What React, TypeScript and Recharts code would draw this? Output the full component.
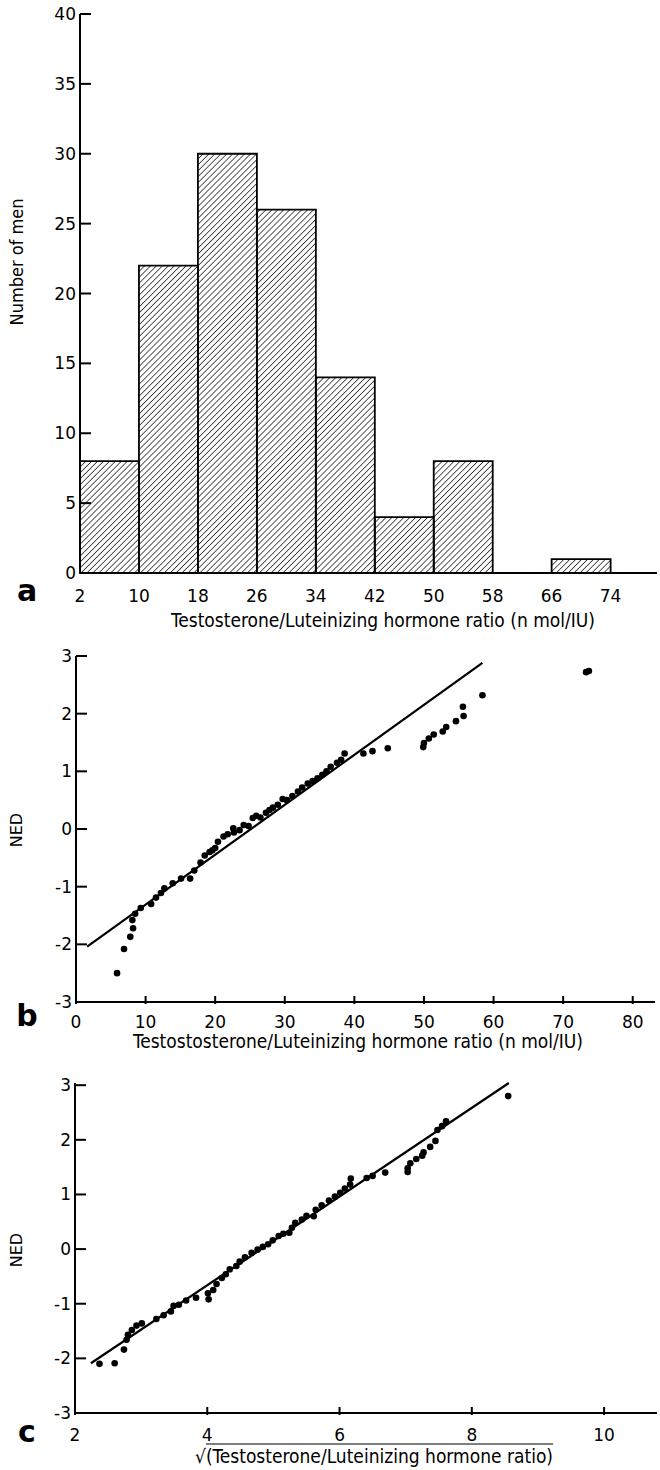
import React from 'react';
import { BarChart, Bar, XAxis, YAxis, ScatterChart, Scatter } from 'recharts';

// a: histogram, bins of width 8 starting at 2
const binMid = [6, 14, 22, 30, 38, 46, 54, 62, 70];
const binCount = [8, 22, 30, 26, 14, 4, 8, 0, 1];
const binEdgeTicks = [2, 10, 18, 26, 34, 42, 50, 58, 66, 74];
const countTicks = [0, 5, 10, 15, 20, 25, 30, 35, 40];

// b: NED against the ratio
const ratioPoints: [number, number][] = [
  [5.9, -2.5], [6.9, -2.08], [7.8, -1.87], [8.2, -1.72], [8.1, -1.58], [8.5, -1.47], [9.3, -1.37],
  [10.8, -1.3], [11.5, -1.19], [12.2, -1.11], [12.7, -1.03], [13.9, -0.94], [15.1, -0.86], [16.4, -0.86],
  [17.0, -0.72], [17.9, -0.58], [18.5, -0.46], [19.2, -0.4], [19.6, -0.37], [20.0, -0.33], [20.4, -0.22],
  [21.2, -0.13], [21.8, -0.09], [22.6, 0.01], [22.7, -0.06], [23.5, -0.02], [24.1, 0.07], [24.8, 0.05],
  [25.4, 0.19], [25.9, 0.23], [26.5, 0.2], [27.3, 0.28], [27.8, 0.33], [28.3, 0.37], [29.0, 0.42],
  [29.7, 0.52], [30.3, 0.5], [31.1, 0.57], [31.9, 0.65], [32.5, 0.72], [33.3, 0.79], [34.0, 0.83],
  [34.7, 0.88], [35.4, 0.94], [36.0, 1.0], [36.6, 1.08], [37.5, 1.15], [38.1, 1.2], [38.6, 1.31],
  [41.3, 1.31], [42.6, 1.35], [44.8, 1.4], [49.9, 1.42], [50.0, 1.49], [50.7, 1.57], [51.4, 1.64],
  [52.7, 1.69], [53.2, 1.77], [54.6, 1.87], [55.7, 1.96], [55.6, 2.12], [58.4, 2.32], [73.3, 2.72], [73.7, 2.74],
];
const ratioFit: [number, number][] = [[1.6, -2.04], [58.4, 2.88]];
const ratioTicks = [0, 10, 20, 30, 40, 50, 60, 70, 80];

// c: NED against the square root of the ratio
const rootPoints: [number, number][] = [
  [2.37, -2.1], [2.6, -2.09], [2.74, -1.84], [2.78, -1.66], [2.8, -1.57], [2.86, -1.48], [2.93, -1.4],
  [3.01, -1.36], [3.23, -1.28], [3.34, -1.21], [3.45, -1.14], [3.49, -1.04], [3.57, -1.02], [3.68, -0.94],
  [3.83, -0.89], [4.02, -0.92], [4.01, -0.81], [4.09, -0.75], [4.14, -0.64], [4.22, -0.53], [4.28, -0.46],
  [4.34, -0.37], [4.44, -0.31], [4.49, -0.23], [4.57, -0.15], [4.67, -0.07], [4.76, -0.01], [4.84, 0.04],
  [4.92, 0.09], [4.99, 0.16], [5.08, 0.24], [5.15, 0.28], [5.24, 0.3], [5.28, 0.39], [5.33, 0.48],
  [5.43, 0.54], [5.5, 0.61], [5.61, 0.6], [5.64, 0.72], [5.73, 0.8], [5.84, 0.89], [5.93, 0.96],
  [6.01, 1.03], [6.08, 1.11], [6.16, 1.18], [6.17, 1.29], [6.41, 1.3], [6.5, 1.34], [6.69, 1.4],
  [7.03, 1.41], [7.03, 1.48], [7.07, 1.57], [7.16, 1.65], [7.25, 1.71], [7.27, 1.77], [7.37, 1.87],
  [7.45, 1.98], [7.48, 2.18], [7.55, 2.25], [7.61, 2.34], [8.55, 2.8],
];
const rootFit: [number, number][] = [[2.24, -2.09], [8.56, 3.04]];
const rootTicks = [2, 4, 6, 8, 10];
const nedTicks = [-3, -2, -1, 0, 1, 2, 3];

const NUM_FONT = "'DejaVu Sans', sans-serif";
const TITLE_FONT = "'Liberation Sans Narrow', 'DejaVu Sans Condensed', 'Liberation Sans', sans-serif";

const histData = binMid.map((mid, i) => ({ mid, count: binCount[i] }));
const toXY = (pts: [number, number][]) => pts.map(([x, y]) => ({ x, y }));

// y ticks point inwards, label sits just left of the axis
const LeftTick = (props: any) => {
  const { x, y, payload } = props;
  return (
    <g>
      <line x1={x + 4} y1={y} x2={x + 15} y2={y} stroke="#000" strokeWidth={2} />
      <text x={x} y={y} textAnchor="end" dominantBaseline="central" fontSize={17} fontFamily={NUM_FONT} fill="#000">
        {payload.value}
      </text>
    </g>
  );
};

const makeBottomTick = (mark: boolean, drop: number) => (props: any) => {
  const { x, y, payload } = props;
  return (
    <g>
      {mark && <line x1={x} y1={y} x2={x} y2={y - 8} stroke="#000" strokeWidth={2} />}
      <text x={x} y={y + drop} textAnchor="middle" dominantBaseline="central" fontSize={17} fontFamily={NUM_FONT} fill="#000">
        {payload.value}
      </text>
    </g>
  );
};

const Dot = (props: any) => <circle cx={props.cx} cy={props.cy} r={3.3} fill="#000" />;
const NoDot = () => <g />;

const axisLine = { stroke: '#000', strokeWidth: 2 };

const Text = ({ x, y, rotate, size = 19, bold, font = TITLE_FONT, children }: any) => (
  <div
    style={{
      position: 'absolute',
      left: x,
      top: y,
      transform: `translate(-50%, -50%)${rotate ? ' rotate(-90deg)' : ''}`,
      whiteSpace: 'nowrap',
      fontFamily: font,
      fontSize: size,
      fontWeight: bold ? 700 : 400,
      lineHeight: 1,
      color: '#000',
    }}
  >
    {children}
  </div>
);

export default function App() {
  return (
    <div style={{ position: 'absolute', left: 0, top: 0, width: 660, height: 1470, background: '#fff' }}>
      <div style={{ position: 'absolute', left: 0, top: 0 }}>
        <BarChart width={660} height={640} data={histData} margin={{ top: 14, right: 3, left: 40, bottom: 37 }} barCategoryGap={0}>
          <defs>
            <pattern id="hatch" width="4.2" height="4.2" patternUnits="userSpaceOnUse" patternTransform="rotate(45)">
              <line x1="0" y1="0" x2="0" y2="4.2" stroke="#000" strokeWidth="1.3" />
            </pattern>
          </defs>
          <XAxis
            type="number"
            dataKey="mid"
            domain={[2, 80.3]}
            ticks={binEdgeTicks}
            interval={0}
            height={30}
            tickSize={0}
            tickLine={false}
            axisLine={axisLine}
            tick={makeBottomTick(false, 21)}
          />
          <YAxis
            type="number"
            domain={[0, 40]}
            ticks={countTicks}
            interval={0}
            width={40}
            tickSize={0}
            tickMargin={4}
            tickLine={false}
            axisLine={axisLine}
            tick={LeftTick}
          />
          <Bar dataKey="count" fill="url(#hatch)" stroke="#000" strokeWidth={1.8} isAnimationActive={false} />
        </BarChart>
      </div>

      <div style={{ position: 'absolute', left: 0, top: 640 }}>
        <ScatterChart width={660} height={425} margin={{ top: 16, right: 5, left: 36, bottom: 33 }}>
          <XAxis
            type="number"
            dataKey="x"
            domain={[0, 83.2]}
            ticks={ratioTicks}
            interval={0}
            height={30}
            tickSize={0}
            tickLine={false}
            axisLine={axisLine}
            tick={makeBottomTick(true, 18)}
          />
          <YAxis
            type="number"
            dataKey="y"
            domain={[-3, 3]}
            ticks={nedTicks}
            interval={0}
            width={40}
            tickSize={0}
            tickMargin={4}
            tickLine={false}
            axisLine={axisLine}
            tick={LeftTick}
          />
          <Scatter data={toXY(ratioFit)} line={{ stroke: '#000', strokeWidth: 2.2 }} shape={NoDot} isAnimationActive={false} />
          <Scatter data={toXY(ratioPoints)} shape={Dot} isAnimationActive={false} />
        </ScatterChart>
      </div>

      <div style={{ position: 'absolute', left: 0, top: 1065 }}>
        <ScatterChart width={660} height={405} margin={{ top: 18, right: 3, left: 35, bottom: 27 }}>
          <XAxis
            type="number"
            dataKey="x"
            domain={[2, 10.8]}
            ticks={rootTicks}
            interval={0}
            height={30}
            tickSize={0}
            tickLine={false}
            axisLine={axisLine}
            tick={makeBottomTick(true, 20)}
          />
          <YAxis
            type="number"
            dataKey="y"
            domain={[-3, 3]}
            ticks={nedTicks}
            interval={0}
            width={40}
            tickSize={0}
            tickMargin={4}
            tickLine={false}
            axisLine={axisLine}
            tick={LeftTick}
          />
          <Scatter data={toXY(rootFit)} line={{ stroke: '#000', strokeWidth: 2.2 }} shape={NoDot} isAnimationActive={false} />
          <Scatter data={toXY(rootPoints)} shape={Dot} isAnimationActive={false} />
        </ScatterChart>
      </div>

      <Text x={17} y={262} rotate size={18}>Number of men</Text>
      <Text x={27} y={591} size={30} bold font={NUM_FONT}>a</Text>
      <Text x={383} y={620} size={19}>Testosterone/Luteinizing hormone ratio (n mol/IU)</Text>

      <Text x={17} y={830} rotate size={16} font={NUM_FONT}>NED</Text>
      <Text x={27} y={1016} size={30} bold font={NUM_FONT}>b</Text>
      <Text x={358} y={1041} size={19}>Testostosterone/Luteinizing hormone ratio (n mol/IU)</Text>

      <Text x={17} y={1250} rotate size={16} font={NUM_FONT}>NED</Text>
      <Text x={27} y={1432} size={30} bold font={NUM_FONT}>c</Text>
      <Text x={374} y={1456} size={19}>
        <span>√</span>
        <span style={{ textDecoration: 'overline' }}>(Testosterone/Luteinizing hormone ratio)</span>
      </Text>
    </div>
  );
}
